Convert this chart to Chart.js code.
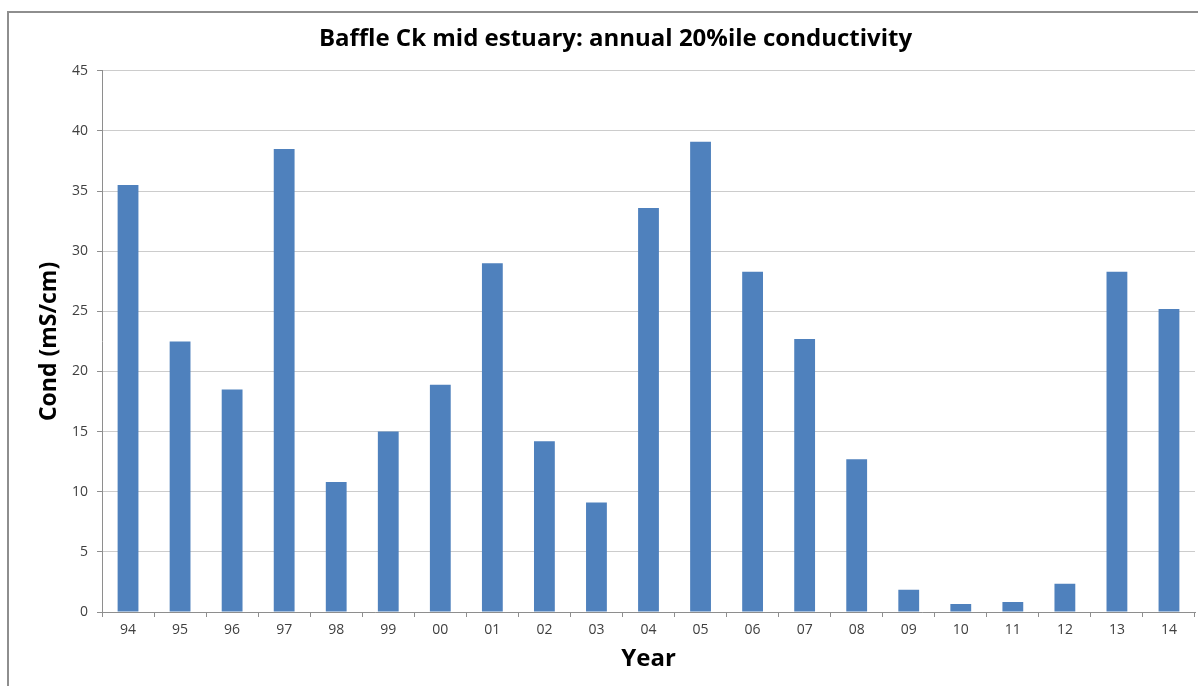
<!DOCTYPE html>
<html>
<head>
<meta charset="utf-8">
<title>Baffle Ck mid estuary</title>
<script src="https://cdn.jsdelivr.net/npm/chart.js@4"></script>
<style>
  html, body { margin: 0; padding: 0; background: #fff; overflow: hidden; }
  #frame { position: absolute; left: 7px; top: 11px; width: 1200px; height: 700px; border: 2px solid #8e8e8e; box-sizing: border-box; }
  #chart1 { position: absolute; left: 0; top: 0; }
</style>
</head>
<body>
<div id="frame"></div>
<canvas id="chart1" width="1198" height="686"></canvas>
<script>
// annual 20th percentile conductivity, mid estuary
const years = ['94', '95', '96', '97', '98', '99', '00', '01', '02', '03', '04',
               '05', '06', '07', '08', '09', '10', '11', '12', '13', '14'];
const cond20 = [35.5, 22.5, 18.5, 38.5, 10.8, 15.0, 18.9, 29.0, 14.2, 9.1, 33.6,
                39.1, 28.3, 22.7, 12.7, 1.85, 0.67, 0.83, 2.35, 28.3, 25.2];
const condTicks = [0, 5, 10, 15, 20, 25, 30, 35, 40, 45];

const fontFamily = "'Open Sans', 'DejaVu Sans', sans-serif";
const axisGray = '#8e8e8e';

function loadChart() {
    const ctx = document.getElementById('chart1').getContext('2d');

    const data = {
        labels: years,
        datasets: [
            {
                data: cond20,
                backgroundColor: '#4f81bd',
                borderWidth: 0,
                barPercentage: 0.4,
                categoryPercentage: 1.0
            }
        ]
    };

    const config = {
        type: 'bar',
        data: data,
        options: {
            responsive: false,
            animation: false,
            layout: { padding: { left: 36, right: 3, top: 0, bottom: 12 } },
            plugins: {
                legend: { display: false },
                tooltip: { enabled: false },
                title: {
                    display: true,
                    text: 'Baffle Ck mid estuary: annual 20%ile conductivity',
                    color: '#000',
                    font: { family: fontFamily, size: 24, weight: 'bold' },
                    padding: { top: 25, bottom: 17 }
                }
            },
            scales: {
                x: {
                    grid: { display: true, drawOnChartArea: false, offset: true, tickLength: 5, color: axisGray },
                    border: { color: axisGray, width: 1 },
                    ticks: { color: '#404040', padding: 5, font: { family: fontFamily, size: 14 } },
                    title: {
                        display: true,
                        text: 'Year',
                        color: '#000',
                        padding: 0,
                        font: { family: fontFamily, size: 24, weight: 'bold' }
                    },
                    afterFit: (scale) => { scale.height = 62; }
                },
                y: {
                    min: 0,
                    max: 45,
                    afterBuildTicks: (scale) => { scale.ticks = condTicks.map(v => ({ value: v })); },
                    grid: { color: '#cccccc', tickColor: axisGray, tickLength: 5 },
                    border: { color: axisGray, width: 1 },
                    ticks: { color: '#404040', padding: 9, font: { family: fontFamily, size: 14 } },
                    title: {
                        display: true,
                        text: 'Cond (mS/cm)',
                        color: '#000',
                        padding: 0,
                        font: { family: fontFamily, size: 23, weight: 'bold' }
                    },
                    afterFit: (scale) => { scale.width = 66; }
                }
            }
        }
    };

    const chart1 = new Chart(ctx, config);
}

loadChart();
</script>
</body>
</html>
